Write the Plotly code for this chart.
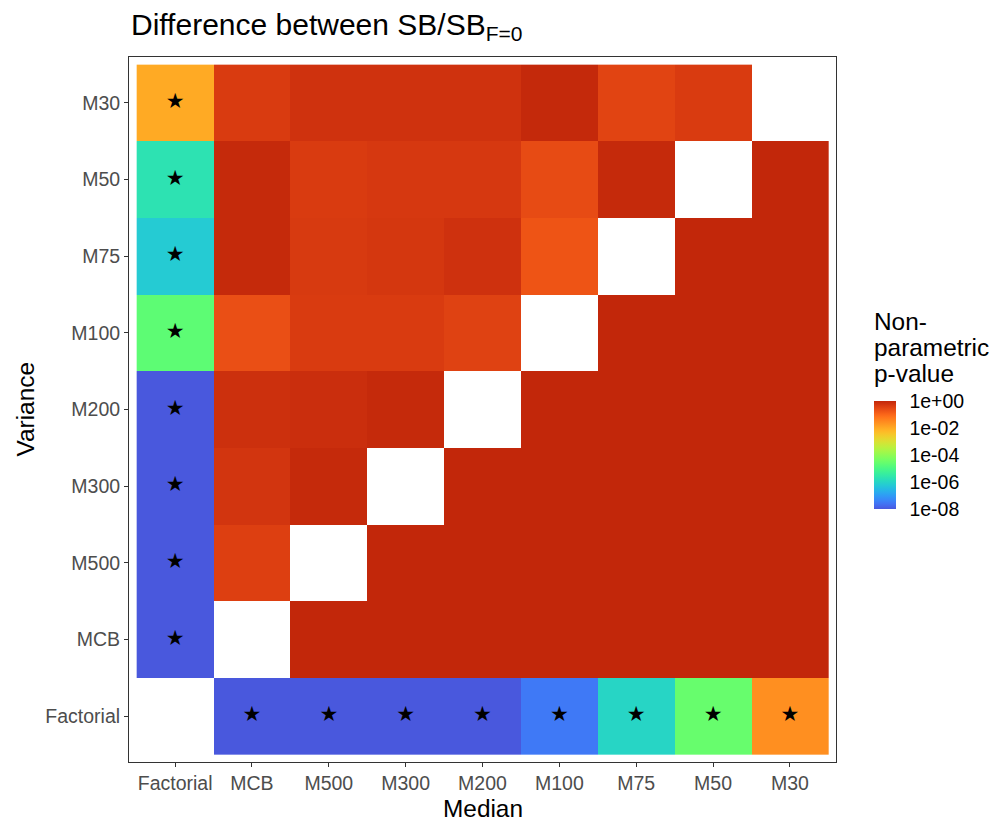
import numpy as np
import plotly.graph_objects as go

categories = ["Factorial", "MCB", "M500", "M300", "M200", "M100", "M75", "M50", "M30"]

# p-values, one list per Variance row (bottom to top), columns follow `categories` (Median)
p_Factorial = [None, 1e-9, 1e-9, 1e-9, 1e-9, 3e-8, 1e-6, 2.8e-5, 2.5e-2]
p_MCB = [1e-9, None, 1, 1, 1, 1, 1, 1, 1]
p_M500 = [1e-9, 0.38, None, 1, 1, 1, 1, 1, 1]
p_M300 = [1e-9, 0.56, 0.9, None, 1, 1, 1, 1, 1]
p_M200 = [1e-9, 0.7, 0.74, 0.9, None, 1, 1, 1, 1]
p_M100 = [2e-5, 0.22, 0.45, 0.45, 0.35, None, 1, 1, 1]
p_M75 = [6e-7, 0.9, 0.47, 0.52, 0.66, 0.18, None, 1, 1]
p_M50 = [2e-6, 0.9, 0.45, 0.5, 0.5, 0.25, 0.9, None, 1]
p_M30 = [1e-2, 0.45, 0.63, 0.63, 0.63, 0.93, 0.32, 0.45, None]

rows = [p_Factorial, p_MCB, p_M500, p_M300, p_M200, p_M100, p_M75, p_M50, p_M30]
tick_vals = [-8, -6, -4, -2, 0]
tick_text = ["1e-08", "1e-06", "1e-04", "1e-02", "1e+00"]
legend_title_lines = ["Non-", "parametric", "p-value"]

FONT = "Liberation Sans, Arial, Helvetica, sans-serif"


def turbo(x):
    r = 0.13572138 + x*(4.61539260 + x*(-42.66032258 + x*(132.13108234 + x*(-152.94239396 + x*59.28637943))))
    g = 0.09140261 + x*(2.19418839 + x*(4.84296658 + x*(-14.18503333 + x*(4.27729857 + x*2.82956604))))
    b = 0.10667330 + x*(12.64194608 + x*(-60.58204836 + x*(110.36276771 + x*(-89.90310912 + x*27.34824973))))
    c = [int(round(255*min(1, max(0, v)))) for v in (r, g, b)]
    return f"rgb({c[0]},{c[1]},{c[2]})"


begin, end = 0.1, 0.885
n = 41
colorscale = [[i/(n-1), turbo(begin + (end-begin)*i/(n-1))] for i in range(n)]

z = [[(np.log10(v) if v is not None else None) for v in row] for row in rows]

# page body has an 8px offset; figure coordinates = window - 8
L, T = 121, 49
PW, PH = 707, 705
R = 1000 - (L + PW)
B = 823 - (T + PH)


def px_x(x):
    return (x - 8 - L) / PW


def px_y(y):
    return (T + PH - (y - 8)) / PH


fig = go.Figure()
fig.add_trace(go.Heatmap(
    z=z, x=list(range(len(categories))), y=list(range(len(categories))),
    zmin=-8, zmax=0, colorscale=colorscale, hoverongaps=False,
    colorbar=dict(
        tickvals=tick_vals, ticktext=tick_text,
        tickfont=dict(size=19.5, color="black", family=FONT),
        lenmode="pixels", len=108, thicknessmode="pixels", thickness=22,
        x=px_x(874), xanchor="left", y=px_y(455), yanchor="middle",
        outlinewidth=0, ticks="outside", tickcolor="rgba(0,0,0,0)", ticklen=10,
        ypad=0, xpad=0,
    ),
))

sx, sy = [], []
for j, row in enumerate(rows):
    for i, v in enumerate(row):
        if v is not None and v < 0.05:
            sx.append(i)
            sy.append(j)
fig.add_trace(go.Scatter(
    x=sx, y=sy, mode="text", text=["★"]*len(sx),
    textfont=dict(size=21, color="black", family="DejaVu Sans"),
    hoverinfo="skip", showlegend=False,
))

axis_common = dict(
    tickmode="array", tickvals=list(range(len(categories))), ticktext=categories,
    range=[-0.6, 8.6], showgrid=False, zeroline=False,
    showline=True, linecolor="#333333", linewidth=1, mirror=True,
    ticks="outside", ticklen=4, tickcolor="#333333", automargin=False,
    tickfont=dict(size=19.5, color="#4D4D4D", family=FONT),
)

annotations = []
for k, line in enumerate(legend_title_lines):
    annotations.append(dict(
        text=line, xref="paper", yref="paper", x=px_x(872), y=px_y(321 + 26*k),
        xanchor="left", yanchor="middle", showarrow=False,
        font=dict(size=24.4, color="black", family=FONT)))
annotations.append(dict(
    text="Median", xref="paper", yref="paper", x=0.5, y=px_y(808),
    xanchor="center", yanchor="middle", showarrow=False,
    font=dict(size=24.4, color="black", family=FONT)))
annotations.append(dict(
    text="Variance", xref="paper", yref="paper", x=px_x(25), y=0.5, textangle=-90,
    xanchor="center", yanchor="middle", showarrow=False,
    font=dict(size=24.4, color="black", family=FONT)))

fig.update_layout(
    width=1000, height=823,
    margin=dict(l=L, r=R, t=T, b=B),
    plot_bgcolor="white", paper_bgcolor="white",
    title=dict(text="Difference between SB/SB<sub>F=0</sub>", x=123/1000, xanchor="left",
               y=1 - 16/823, yanchor="middle",
               font=dict(size=30, color="black", family=FONT)),
    xaxis=axis_common,
    yaxis=axis_common,
    annotations=annotations,
    showlegend=False,
)

fig.write_html("out.html")
